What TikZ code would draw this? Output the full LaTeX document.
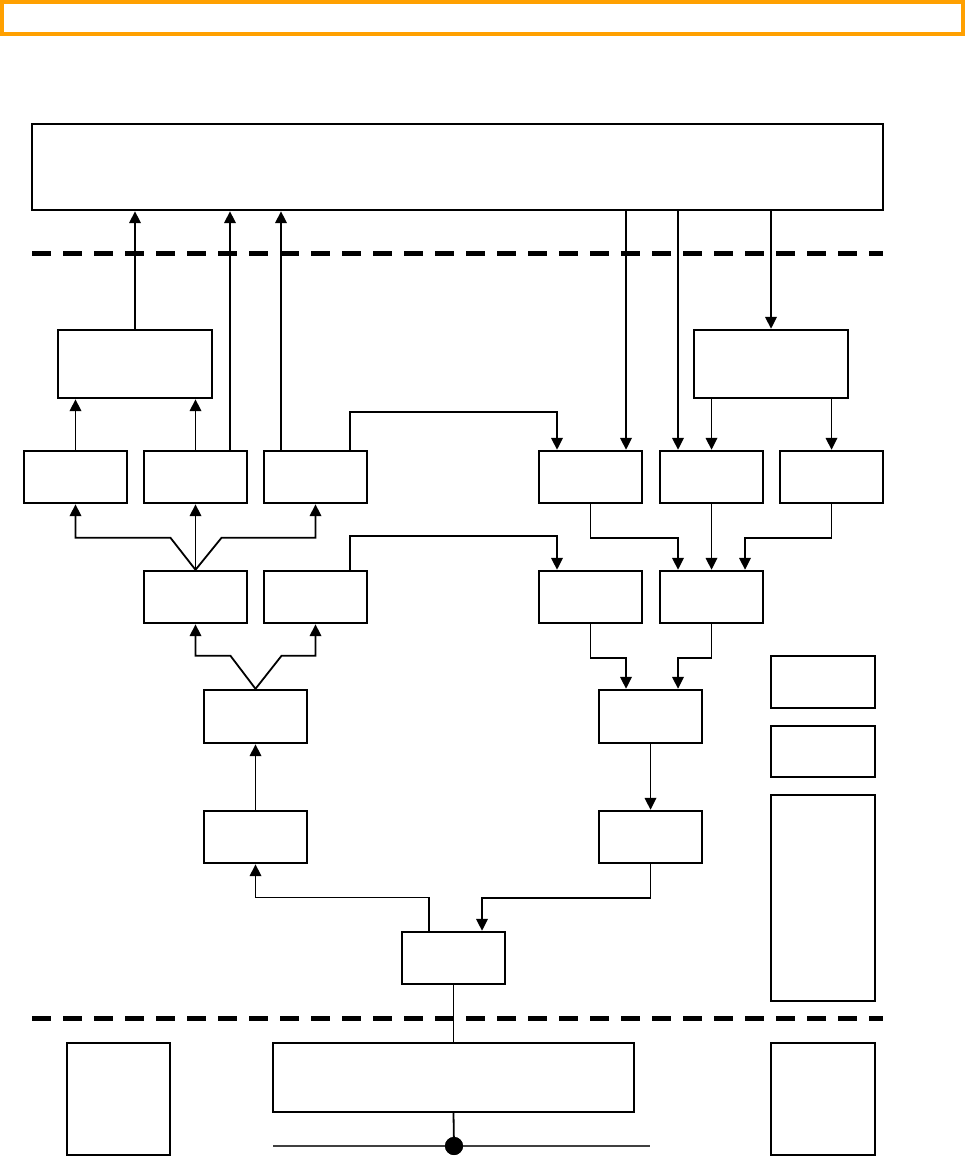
\documentclass[tikz,border=0pt]{standalone}
\usetikzlibrary{arrows.meta,positioning,calc}

\definecolor{banner}{RGB}{255,160,0}

\begin{document}
\begin{tikzpicture}[
        x=1pt, y=-1pt,
        >={Triangle[length=12pt,width=11.5pt]},
        box/.style={rectangle, draw=black, line width=2.4pt, fill=white, inner sep=0pt, minimum width=103pt, minimum height=52pt},
        widebox/.style={box, minimum width=154pt, minimum height=68pt},
        line/.style={->, line width=1.8pt},
        plain/.style={line width=1.8pt},
        layer/.style={line width=5pt, dash pattern=on 19pt off 12pt},
        tap/.style={circle, fill=black, inner sep=0pt, minimum size=18pt}
    ]
    \useasboundingbox (0,0) rectangle (966,1157);

    % --- Banner and layer separators ---
    \draw[draw=banner, line width=3.5pt] (2,2) rectangle (963,34);
    \draw[layer] (32,253) -- (883,253);
    \draw[layer] (32,1018) -- (883,1018);

    % --- Top layer ---
    \node[box, minimum width=851pt, minimum height=86pt] (top) at (457.5,167) {};

    % --- Upper blocks ---
    \node[widebox] (a1) at (135,364) {};
    \node[widebox] (a2) at (771,364) {};

    \node[box] (b1) at (75.5,477) {};
    \node[box] (b2) at (195.5,477) {};
    \node[box] (b3) at (315.5,477) {};
    \node[box] (b4) at (590.5,477) {};
    \node[box] (b5) at (711.5,477) {};
    \node[box] (b6) at (831.5,477) {};

    \node[box] (c1) at (195.5,597) {};
    \node[box] (c2) at (315.5,597) {};
    \node[box] (c3) at (590.5,597) {};
    \node[box] (c4) at (711.5,597) {};

    \node[box, minimum height=53pt] (d1) at (255.5,716.5) {};
    \node[box, minimum height=53pt] (d2) at (650.5,716.5) {};

    \node[box] (e1) at (255.5,837) {};
    \node[box] (e2) at (650.5,837) {};

    \node[box] (f) at (453.5,958) {};

    % --- Side blocks ---
    \node[box, minimum width=104pt] (s1) at (823,682) {};
    \node[box, minimum width=104pt, minimum height=51pt] (s2) at (823,751.5) {};
    \node[box, minimum width=104pt, minimum height=206pt] (s3) at (823,898) {};

    % --- Bottom layer ---
    \node[box, minimum width=361pt, minimum height=69pt] (bottom) at (453.5,1077.5) {};
    \node[box, minimum height=112pt] (bl) at (118.5,1099) {};
    \node[box, minimum width=104pt, minimum height=112pt] (br) at (823,1099) {};
    \coordinate (busL) at (273,1146);
    \coordinate (busR) at (650,1146);
    \node[tap] (dot) at (454,1146) {};

    % --- Upward paths (left side) ---
    \draw[line] (a1.north) -- (a1.north |- top.south);
    \draw[line] ([xshift=34.5pt]b2.north) -- ([xshift=34.5pt]b2.north |- top.south);
    \draw[line] ([xshift=-34.5pt]b3.north) -- ([xshift=-34.5pt]b3.north |- top.south);
    \draw[line] (b1.north) -- (b1.north |- a1.south);
    \draw[line] (b2.north) -- (b2.north |- a1.south);

    \draw[line] (c1.north) -- ++(-25,-32) -| (b1.south);
    \draw[line] (c1.north) -- (b2.south);
    \draw[line] (c1.north) -- ++(26,-32) -| (b3.south);

    \draw[line] (d1.north) -- ++(-25,-33) -| (c1.south);
    \draw[line] (d1.north) -- ++(26,-33) -| (c2.south);

    \draw[line] (e1.north) -- (d1.south);
    \draw[line] ([xshift=-24.5pt]f.north) |- ($(e1.south)!0.5!(f.north)$) -| (e1.south);

    % --- Downward paths (right side) ---
    \draw[line] ([xshift=35.5pt]b4.north |- top.south) -- ([xshift=35.5pt]b4.north);
    \draw[line] ([xshift=-33.5pt]b5.north |- top.south) -- ([xshift=-33.5pt]b5.north);
    \draw[line] (a2.north |- top.south) -- (a2.north);
    \draw[line] (b5.north |- a2.south) -- (b5.north);
    \draw[line] (b6.north |- a2.south) -- (b6.north);

    \draw[line] ([xshift=34.5pt]b3.north) -- ++(0,-38) -| ([xshift=-33.5pt]b4.north);
    \draw[line] ([xshift=34.5pt]c2.north) -- ++(0,-34) -| ([xshift=-33.5pt]c3.north);

    \draw[line] (b4.south) -- ++(0,34) -| ([xshift=-33.5pt]c4.north);
    \draw[line] (b5.south) -- (c4.north);
    \draw[line] (b6.south) -- ++(0,34) -| ([xshift=33.5pt]c4.north);

    \draw[line] (c3.south) -- ++(0,34) -| ([xshift=-24.5pt]d2.north);
    \draw[line] (c4.south) -- ++(0,34) -| ([xshift=27.5pt]d2.north);

    \draw[line] (d2.south) -- (e2.north);
    \draw[line] (e2.south) -- ++(0,34) -| ([xshift=28.5pt]f.north);

    % --- Down to the bus ---
    \draw[plain] (f.south) -- (bottom.north);
    \draw[plain] (bottom.south) -- (dot);
    \draw[line width=1.8pt, draw=black!75] (busL) -- (dot) -- (busR);
    \node[tap] at (dot) {};

\end{tikzpicture}
\end{document}
